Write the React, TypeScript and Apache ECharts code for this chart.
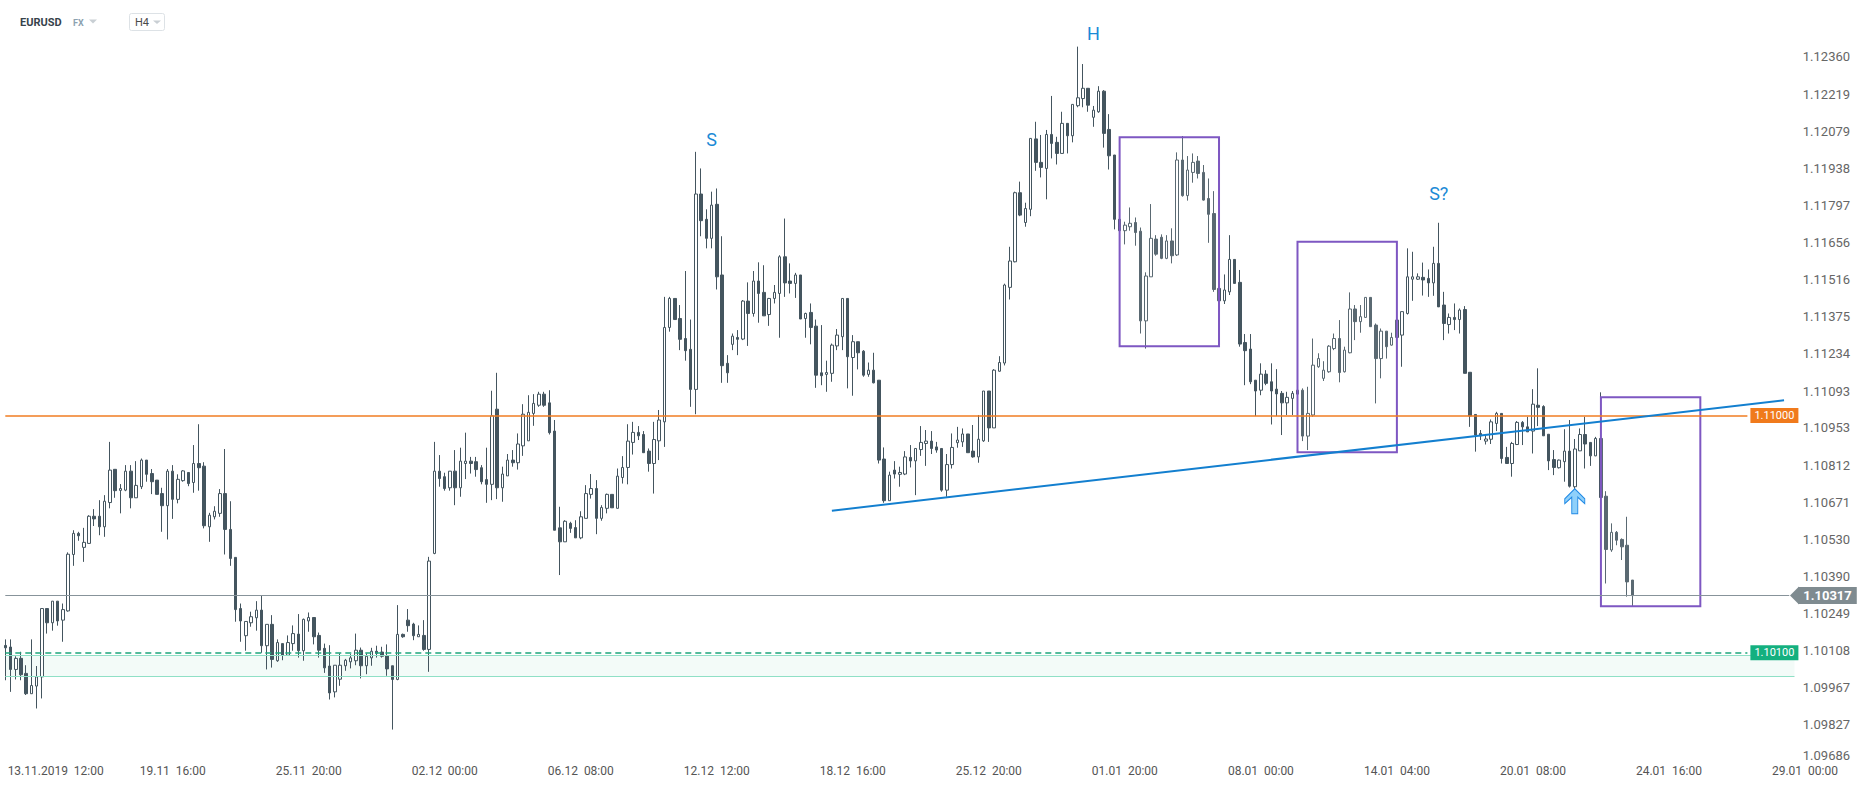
import React, { useEffect, useRef } from 'react';
import * as echarts from 'echarts';

// ---- candle values (H4 EURUSD) ----
const opens = [
  1.10128, 1.10122, 1.10037, 1.10079, 1.10022, 1.09945, 1.09974, 1.10009, 1.10268, 1.10214,
  1.10296, 1.10224, 1.10259, 1.10473, 1.10553, 1.10500, 1.10515, 1.10618, 1.10618, 1.10578,
  1.10670, 1.10796, 1.10716, 1.10717, 1.10789, 1.10688, 1.10730, 1.10831, 1.10780, 1.10755,
  1.10704, 1.10658, 1.10789, 1.10682, 1.10753, 1.10784, 1.10746, 1.10818, 1.10808, 1.10578,
  1.10616, 1.10629, 1.10704, 1.10568, 1.10462, 1.10268, 1.10165, 1.10214, 1.10233, 1.10262,
  1.10127, 1.10208, 1.10070, 1.10135, 1.10091, 1.10135, 1.10171, 1.10108, 1.10221, 1.10234,
  1.10166, 1.10117, 1.10050, 1.09952, 1.10000, 1.10051, 1.10066, 1.10070, 1.10110, 1.10051,
  1.10081, 1.10106, 1.10103, 1.10090, 1.10051, 1.09999, 1.10170, 1.10224, 1.10209, 1.10161,
  1.10166, 1.10113, 1.10477, 1.10789, 1.10768, 1.10726, 1.10789, 1.10726, 1.10818, 1.10827,
  1.10825, 1.10802, 1.10757, 1.10739, 1.11024, 1.10726, 1.10771, 1.10831, 1.10821, 1.10885,
  1.10904, 1.11008, 1.11039, 1.11081, 1.11048, 1.10941, 1.10574, 1.10521, 1.10591, 1.10575,
  1.10536, 1.10610, 1.10701, 1.10723, 1.10610, 1.10648, 1.10701, 1.10648, 1.10765, 1.10803,
  1.10898, 1.10936, 1.10928, 1.10865, 1.10818, 1.10904, 1.10976, 1.11334, 1.11444, 1.11368,
  1.11292, 1.11251, 1.11099, 1.11840, 1.11744, 1.11672, 1.11801, 1.11533, 1.11198, 1.11270,
  1.11296, 1.11290, 1.11434, 1.11387, 1.11510, 1.11467, 1.11383, 1.11444, 1.11463, 1.11602,
  1.11510, 1.11501, 1.11533, 1.11368, 1.11391, 1.11339, 1.11162, 1.11156, 1.11160, 1.11264,
  1.11299, 1.11444, 1.11220, 1.11280, 1.11244, 1.11156, 1.11172, 1.11134, 1.10835, 1.10677,
  1.10793, 1.10777, 1.10778, 1.10841, 1.10828, 1.10871, 1.10894, 1.10903, 1.10881, 1.10875,
  1.10717, 1.10814, 1.10897, 1.10900, 1.10930, 1.10865, 1.10843, 1.10904, 1.11093, 1.10953,
  1.11168, 1.11199, 1.11486, 1.11583, 1.11845, 1.11732, 1.11782, 1.12049, 1.11960, 1.11937,
  1.12066, 1.12036, 1.11994, 1.12108, 1.12061, 1.12175, 1.12202, 1.12241, 1.12131, 1.12152,
  1.12230, 1.12085, 1.11988, 1.11744, 1.11701, 1.11716, 1.11732, 1.11699, 1.11359, 1.11526,
  1.11669, 1.11676, 1.11596, 1.11662, 1.11609, 1.11969, 1.11834, 1.11922, 1.11965, 1.11922,
  1.11823, 1.11766, 1.11482, 1.11435, 1.11469, 1.11592, 1.11505, 1.11277, 1.11252, 1.11134,
  1.11096, 1.11157, 1.11128, 1.11100, 1.11084, 1.11048, 1.11065, 1.11081, 1.11096, 1.10922,
  1.11002, 1.11185, 1.11141, 1.11166, 1.11254, 1.11292, 1.11166, 1.11238, 1.11404, 1.11356,
  1.11372, 1.11448, 1.11343, 1.11216, 1.11320, 1.11267, 1.11296, 1.11305, 1.11387, 1.11517,
  1.11517, 1.11524, 1.11520, 1.11503, 1.11577, 1.11419, 1.11345, 1.11372, 1.11364, 1.11402,
  1.11164, 1.11004, 1.10932, 1.10903, 1.10910, 1.10970, 1.11008, 1.10841, 1.10818, 1.10890,
  1.10974, 1.10957, 1.10941, 1.11039, 1.11034, 1.10929, 1.10833, 1.10802, 1.10825, 1.10865,
  1.10730, 1.10866, 1.10928, 1.10898, 1.10847, 1.10913, 1.10694, 1.10490, 1.10557, 1.10530,
  1.10508, 1.10376,
];

const closes = [
  1.10119, 1.10037, 1.10079, 1.10017, 1.09945, 1.09976, 1.10009, 1.10268, 1.10214, 1.10296,
  1.10221, 1.10264, 1.10474, 1.10553, 1.10544, 1.10519, 1.10618, 1.10608, 1.10578, 1.10675,
  1.10793, 1.10715, 1.10723, 1.10789, 1.10688, 1.10735, 1.10831, 1.10777, 1.10749, 1.10701,
  1.10658, 1.10789, 1.10682, 1.10758, 1.10790, 1.10742, 1.10818, 1.10802, 1.10582, 1.10622,
  1.10637, 1.10704, 1.10568, 1.10458, 1.10264, 1.10221, 1.10219, 1.10237, 1.10262, 1.10127,
  1.10208, 1.10075, 1.10139, 1.10091, 1.10139, 1.10173, 1.10108, 1.10227, 1.10234, 1.10161,
  1.10110, 1.10043, 1.09948, 1.10053, 1.10053, 1.10072, 1.10081, 1.10110, 1.10051, 1.10087,
  1.10106, 1.10098, 1.10087, 1.10039, 1.09999, 1.10170, 1.10161, 1.10203, 1.10165, 1.10170,
  1.10113, 1.10448, 1.10789, 1.10761, 1.10723, 1.10789, 1.10726, 1.10827, 1.10827, 1.10818,
  1.10795, 1.10749, 1.10739, 1.10999, 1.10726, 1.10778, 1.10831, 1.10821, 1.10892, 1.11005,
  1.11012, 1.11046, 1.11081, 1.11039, 1.10935, 1.10565, 1.10521, 1.10599, 1.10572, 1.10536,
  1.10616, 1.10704, 1.10723, 1.10610, 1.10651, 1.10701, 1.10650, 1.10770, 1.10803, 1.10903,
  1.10936, 1.10923, 1.10859, 1.10818, 1.10909, 1.10983, 1.11334, 1.11444, 1.11364, 1.11289,
  1.11246, 1.11099, 1.11840, 1.11739, 1.11672, 1.11798, 1.11526, 1.11189, 1.11162, 1.11301,
  1.11289, 1.11434, 1.11387, 1.11510, 1.11463, 1.11378, 1.11444, 1.11467, 1.11602, 1.11503,
  1.11501, 1.11533, 1.11366, 1.11387, 1.11334, 1.11153, 1.11151, 1.11163, 1.11267, 1.11305,
  1.11444, 1.11223, 1.11280, 1.11238, 1.11153, 1.11172, 1.11124, 1.10831, 1.10677, 1.10774,
  1.10778, 1.10784, 1.10843, 1.10828, 1.10875, 1.10898, 1.10903, 1.10875, 1.10869, 1.10717,
  1.10814, 1.10879, 1.10907, 1.10930, 1.10859, 1.10843, 1.10910, 1.11093, 1.10953, 1.11172,
  1.11201, 1.11495, 1.11586, 1.11845, 1.11760, 1.11785, 1.12051, 1.11960, 1.11941, 1.12066,
  1.12032, 1.11994, 1.12108, 1.12061, 1.12180, 1.12205, 1.12241, 1.12177, 1.12158, 1.12230,
  1.12070, 1.11985, 1.11744, 1.11701, 1.11722, 1.11729, 1.11694, 1.11359, 1.11529, 1.11672,
  1.11612, 1.11596, 1.11662, 1.11606, 1.11969, 1.11834, 1.11931, 1.11960, 1.11918, 1.11817,
  1.11763, 1.11478, 1.11435, 1.11476, 1.11592, 1.11501, 1.11271, 1.11246, 1.11128, 1.11093,
  1.11157, 1.11122, 1.11093, 1.11082, 1.11048, 1.11069, 1.11084, 1.11096, 1.10922, 1.11008,
  1.11191, 1.11216, 1.11172, 1.11263, 1.11292, 1.11163, 1.11248, 1.11404, 1.11356, 1.11375,
  1.11448, 1.11337, 1.11216, 1.11320, 1.11261, 1.11296, 1.11362, 1.11394, 1.11526, 1.11526,
  1.11526, 1.11514, 1.11503, 1.11577, 1.11412, 1.11349, 1.11372, 1.11364, 1.11400, 1.11160,
  1.10998, 1.10926, 1.10923, 1.10911, 1.10976, 1.11008, 1.10837, 1.10818, 1.10894, 1.10974,
  1.10957, 1.10938, 1.11043, 1.11031, 1.10923, 1.10828, 1.10803, 1.10831, 1.10865, 1.10732,
  1.10873, 1.10928, 1.10892, 1.10847, 1.10913, 1.10689, 1.10492, 1.10557, 1.10527, 1.10502,
  1.10369, 1.10317,
];

const lows = [
  1.09996, 1.09952, 1.09999, 1.09996, 1.09940, 1.09945, 1.09889, 1.09927, 1.10173, 1.10184,
  1.10203, 1.10142, 1.10256, 1.10430, 1.10525, 1.10445, 1.10515, 1.10581, 1.10546, 1.10540,
  1.10648, 1.10688, 1.10629, 1.10713, 1.10648, 1.10688, 1.10721, 1.10749, 1.10702, 1.10701,
  1.10559, 1.10530, 1.10608, 1.10667, 1.10749, 1.10732, 1.10707, 1.10715, 1.10572, 1.10521,
  1.10606, 1.10616, 1.10473, 1.10430, 1.10218, 1.10142, 1.10108, 1.10199, 1.10184, 1.10100,
  1.10037, 1.10044, 1.10066, 1.10072, 1.10091, 1.10108, 1.10082, 1.10070, 1.10180, 1.10132,
  1.10082, 1.10024, 1.09923, 1.09931, 1.09975, 1.10032, 1.10041, 1.10053, 1.10003, 1.10019,
  1.10051, 1.10082, 1.10082, 1.10013, 1.09809, 1.09996, 1.10157, 1.10180, 1.10148, 1.10161,
  1.10108, 1.10028, 1.10474, 1.10730, 1.10715, 1.10715, 1.10660, 1.10692, 1.10759, 1.10780,
  1.10768, 1.10739, 1.10669, 1.10679, 1.10683, 1.10673, 1.10771, 1.10806, 1.10795, 1.10847,
  1.10904, 1.10961, 1.11033, 1.11033, 1.10928, 1.10565, 1.10395, 1.10521, 1.10555, 1.10536,
  1.10531, 1.10610, 1.10685, 1.10550, 1.10601, 1.10629, 1.10650, 1.10648, 1.10742, 1.10739,
  1.10852, 1.10907, 1.10859, 1.10787, 1.10704, 1.10831, 1.10881, 1.11318, 1.11364, 1.11248,
  1.11208, 1.11033, 1.11005, 1.11680, 1.11634, 1.11634, 1.11478, 1.11124, 1.11124, 1.11248,
  1.11229, 1.11286, 1.11264, 1.11375, 1.11352, 1.11378, 1.11340, 1.11425, 1.11295, 1.11450,
  1.11463, 1.11446, 1.11366, 1.11295, 1.11270, 1.11105, 1.11115, 1.11090, 1.11128, 1.11248,
  1.11248, 1.11103, 1.11075, 1.11175, 1.11147, 1.11147, 1.11122, 1.10818, 1.10669, 1.10677,
  1.10761, 1.10730, 1.10774, 1.10803, 1.10698, 1.10847, 1.10809, 1.10854, 1.10859, 1.10711,
  1.10692, 1.10799, 1.10878, 1.10881, 1.10859, 1.10840, 1.10821, 1.10900, 1.10900, 1.10953,
  1.11166, 1.11190, 1.11440, 1.11581, 1.11756, 1.11716, 1.11756, 1.11928, 1.11903, 1.11820,
  1.11975, 1.11952, 1.11994, 1.11994, 1.12036, 1.12169, 1.12169, 1.12152, 1.12095, 1.12148,
  1.12016, 1.11933, 1.11706, 1.11640, 1.11649, 1.11701, 1.11644, 1.11311, 1.11254, 1.11526,
  1.11606, 1.11593, 1.11593, 1.11577, 1.11605, 1.11830, 1.11815, 1.11883, 1.11899, 1.11815,
  1.11655, 1.11469, 1.11425, 1.11423, 1.11457, 1.11501, 1.11261, 1.11115, 1.11119, 1.10998,
  1.11077, 1.11115, 1.10966, 1.10998, 1.10926, 1.11002, 1.11002, 1.11071, 1.10903, 1.10869,
  1.10995, 1.11181, 1.11131, 1.11162, 1.11248, 1.11126, 1.11163, 1.11236, 1.11286, 1.11314,
  1.11372, 1.11337, 1.11046, 1.11141, 1.11216, 1.11265, 1.11290, 1.11185, 1.11383, 1.11435,
  1.11514, 1.11455, 1.11450, 1.11454, 1.11412, 1.11286, 1.11311, 1.11324, 1.11311, 1.11160,
  1.10957, 1.10863, 1.10907, 1.10890, 1.10892, 1.10941, 1.10818, 1.10818, 1.10768, 1.10888,
  1.10888, 1.10938, 1.10856, 1.10960, 1.10923, 1.10793, 1.10774, 1.10799, 1.10749, 1.10727,
  1.10704, 1.10866, 1.10799, 1.10809, 1.10846, 1.10689, 1.10363, 1.10483, 1.10508, 1.10452,
  1.10313, 1.10277,
];

const highs = [
  1.10151, 1.10151, 1.10087, 1.10104, 1.10053, 1.10151, 1.10050, 1.10268, 1.10268, 1.10296,
  1.10296, 1.10287, 1.10481, 1.10565, 1.10559, 1.10574, 1.10622, 1.10645, 1.10679, 1.10698,
  1.10900, 1.10796, 1.10740, 1.10812, 1.10812, 1.10827, 1.10837, 1.10831, 1.10797, 1.10755,
  1.10726, 1.10797, 1.10812, 1.10777, 1.10793, 1.10784, 1.10888, 1.10967, 1.10823, 1.10631,
  1.10656, 1.10721, 1.10873, 1.10675, 1.10462, 1.10287, 1.10219, 1.10256, 1.10296, 1.10319,
  1.10208, 1.10243, 1.10151, 1.10135, 1.10166, 1.10204, 1.10247, 1.10230, 1.10253, 1.10234,
  1.10177, 1.10135, 1.10129, 1.10053, 1.10098, 1.10077, 1.10095, 1.10173, 1.10120, 1.10098,
  1.10119, 1.10127, 1.10123, 1.10132, 1.10051, 1.10281, 1.10173, 1.10266, 1.10214, 1.10204,
  1.10224, 1.10464, 1.10900, 1.10850, 1.10783, 1.10789, 1.10869, 1.10878, 1.10935, 1.10843,
  1.10843, 1.10812, 1.10878, 1.11094, 1.11162, 1.10806, 1.10854, 1.10869, 1.10932, 1.11043,
  1.11077, 1.11081, 1.11090, 1.11090, 1.11096, 1.10983, 1.10654, 1.10603, 1.10597, 1.10603,
  1.10637, 1.10736, 1.10778, 1.10755, 1.10660, 1.10704, 1.10701, 1.10799, 1.10846, 1.10967,
  1.10976, 1.10960, 1.10941, 1.10875, 1.10976, 1.11021, 1.11450, 1.11450, 1.11444, 1.11419,
  1.11548, 1.11364, 1.12000, 1.11937, 1.11782, 1.11849, 1.11861, 1.11680, 1.11229, 1.11311,
  1.11324, 1.11438, 1.11505, 1.11548, 1.11581, 1.11570, 1.11446, 1.11495, 1.11608, 1.11747,
  1.11577, 1.11541, 1.11533, 1.11390, 1.11425, 1.11364, 1.11343, 1.11208, 1.11273, 1.11328,
  1.11444, 1.11444, 1.11305, 1.11280, 1.11248, 1.11201, 1.11238, 1.11134, 1.10879, 1.10787,
  1.10827, 1.10806, 1.10865, 1.10888, 1.10875, 1.10960, 1.10945, 1.10941, 1.10900, 1.10875,
  1.10854, 1.10932, 1.10957, 1.10951, 1.10930, 1.10964, 1.11002, 1.11093, 1.11093, 1.11176,
  1.11225, 1.11500, 1.11640, 1.11849, 1.11887, 1.11807, 1.12051, 1.12114, 1.12064, 1.12083,
  1.12212, 1.12057, 1.12152, 1.12108, 1.12180, 1.12399, 1.12333, 1.12241, 1.12174, 1.12249,
  1.12234, 1.12143, 1.11988, 1.11760, 1.11735, 1.11789, 1.11751, 1.11713, 1.11543, 1.11802,
  1.11684, 1.11687, 1.11684, 1.11710, 1.11998, 1.12060, 1.11984, 1.11994, 1.11984, 1.11950,
  1.11899, 1.11851, 1.11490, 1.11535, 1.11684, 1.11592, 1.11552, 1.11309, 1.11309, 1.11134,
  1.11198, 1.11172, 1.11198, 1.11176, 1.11093, 1.11090, 1.11093, 1.11109, 1.11103, 1.11109,
  1.11292, 1.11236, 1.11206, 1.11267, 1.11311, 1.11362, 1.11261, 1.11467, 1.11419, 1.11419,
  1.11448, 1.11448, 1.11349, 1.11330, 1.11320, 1.11314, 1.11370, 1.11394, 1.11634, 1.11621,
  1.11539, 1.11580, 1.11554, 1.11640, 1.11731, 1.11469, 1.11387, 1.11425, 1.11406, 1.11415,
  1.11164, 1.11004, 1.10945, 1.10926, 1.10985, 1.11014, 1.11008, 1.10881, 1.10900, 1.10979,
  1.10979, 1.10995, 1.11100, 1.11179, 1.11039, 1.10929, 1.10869, 1.10833, 1.10948, 1.10983,
  1.10911, 1.10951, 1.10995, 1.10898, 1.10919, 1.11088, 1.10713, 1.10591, 1.10562, 1.10534,
  1.10616, 1.10376,
];

// ---- axis labels ----
const timeLabels = [
  '13.11.2019  12:00', '19.11  16:00', '25.11  20:00', '02.12  00:00', '06.12  08:00',
  '12.12  12:00', '18.12  16:00', '25.12  20:00', '01.01  20:00', '08.01  00:00',
  '14.01  04:00', '20.01  08:00', '24.01  16:00', '29.01  00:00',
];
const firstTickIndex = 6;
const candlesPerTick = 26;
const slotCount = 346;

const priceTicks = [
  1.09686, 1.09827, 1.09967, 1.10108, 1.10249, 1.10390, 1.10530, 1.10671, 1.10812, 1.10953,
  1.11093, 1.11234, 1.11375, 1.11516, 1.11656, 1.11797, 1.11938, 1.12079, 1.12219, 1.12360,
];
const priceMin = 1.09686;
const priceMax = 1.125;

// ---- annotation values ----
const resistanceLevel = 1.11;
const supportLevel = 1.101;
const lastPrice = 1.10317;
const zoneTop = 1.1009;
const zoneBottom = 1.1001;
const necklineStart = [158, 1.10639];
const necklineEnd = [340, 1.11058];
const patternBoxes = [
  [213, 1.12055, 232, 1.11263],
  [247, 1.11659, 266, 1.10861],
  [305, 1.11069, 324, 1.10277],
];
const patternLabels = [
  { text: 'S', idx: 135, price: 1.12045 },
  { text: 'H', idx: 208, price: 1.12449 },
  { text: 'S?', idx: 274, price: 1.11842 },
];
const signalArrow = [300, 1.10675];

const BEAR = '#44555f';
const FONT = 'Roboto, "Noto Sans", sans-serif';

export default function App() {
  const ref = useRef<HTMLDivElement>(null);

  useEffect(() => {
    if (!ref.current) return;
    const chart = echarts.init(ref.current, null, { renderer: 'svg' });

    const candles = opens.map((o, i) => [o, closes[i], lows[i], highs[i]]);
    const categories = Array.from({ length: slotCount }, (_, i) => {
      const k = (i - firstTickIndex) / candlesPerTick;
      return Number.isInteger(k) && k >= 0 && k < timeLabels.length ? timeLabels[k] : '';
    });

    const levelEnd = 333;
    const zoneEnd = 342;
    const lastEnd = 341;

    const levelLabel = (bg: string, text: string) => ({
      show: true,
      position: 'end',
      distance: 3,
      formatter: () => text,
      color: '#ffffff',
      backgroundColor: bg,
      padding: [2, 4, 2, 4],
      fontSize: 11,
      fontFamily: FONT,
    });

    const option: any = {
      animation: false,
      backgroundColor: '#ffffff',
      grid: { left: 2.684, right: 53.2, top: 20, bottom: 26, outerBoundsMode: 'none' },
      xAxis: {
        type: 'category',
        data: categories,
        boundaryGap: true,
        axisLine: { show: false },
        axisTick: { show: false },
        splitLine: { show: false },
        axisLabel: {
          interval: 0,
          margin: 3,
          color: '#555555',
          fontSize: 12,
          fontFamily: FONT,
          formatter: (v: string, i: number) => (i === firstTickIndex ? `{first|${v}}` : v),
          rich: { first: { padding: [0, 0, 0, 38], fontSize: 12, color: '#555555', fontFamily: FONT } },
        },
      },
      yAxis: {
        type: 'value',
        position: 'right',
        min: priceMin,
        max: priceMax,
        scale: true,
        axisLine: { show: false },
        axisTick: { show: false },
        splitLine: { show: false },
        axisLabel: {
          customValues: priceTicks,
          formatter: (v: number) => v.toFixed(5),
          color: '#666666',
          fontSize: 13,
          fontFamily: FONT,
          margin: -10,
          verticalAlignMinLabel: 'bottom',
        },
      },
      series: [
        {
          // holder of the light support zone, drawn beneath the candles
          type: 'line',
          data: [],
          silent: true,
          markArea: {
            silent: true,
            label: { show: false },
            data: [
              [
                { coord: [0, zoneTop], itemStyle: { color: 'rgba(140,220,190,0.10)' } },
                { coord: [zoneEnd, zoneBottom] },
              ],
            ],
          },
        },
        {
          type: 'candlestick',
          data: candles,
          barWidth: 3,
          itemStyle: {
            color: '#ffffff',
            color0: BEAR,
            borderColor: BEAR,
            borderColor0: BEAR,
            borderColorDoji: BEAR,
            borderWidth: 1,
          },
          markArea: {
            silent: true,
            z: 3,
            label: { show: false },
            data: patternBoxes.map((b) => [
              {
                coord: [b[0], b[1]],
                itemStyle: { color: 'rgba(255,255,255,0.12)', borderColor: '#7e57c2', borderWidth: 2 },
              },
              { coord: [b[2], b[3]] },
            ]),
          },
          markLine: {
            silent: true,
            symbol: ['none', 'none'],
            animation: false,
            data: [
              [
                { coord: [0, zoneTop], lineStyle: { color: '#8fe0c6', width: 1, type: 'solid' }, label: { show: false } },
                { coord: [zoneEnd, zoneTop] },
              ],
              [
                { coord: [0, zoneBottom], lineStyle: { color: '#8fe0c6', width: 1, type: 'solid' }, label: { show: false } },
                { coord: [zoneEnd, zoneBottom] },
              ],
              [
                {
                  coord: [0, resistanceLevel],
                  lineStyle: { color: '#f07d22', width: 1.5, type: 'solid' },
                  label: levelLabel('#f07a1c', resistanceLevel.toFixed(5)),
                },
                { coord: [levelEnd, resistanceLevel] },
              ],
              [
                {
                  coord: [0, supportLevel],
                  lineStyle: { color: '#1ea77c', width: 1.5, type: [6, 4] },
                  label: levelLabel('#14b07f', supportLevel.toFixed(5)),
                },
                { coord: [levelEnd, supportLevel] },
              ],
              [
                {
                  coord: [0, lastPrice],
                  lineStyle: { color: '#87939a', width: 1.2, type: 'solid' },
                  label: {
                    show: true,
                    position: 'end',
                    distance: 9,
                    formatter: () => lastPrice.toFixed(5),
                    color: '#ffffff',
                    backgroundColor: '#7f8b90',
                    padding: [2, 5, 2, 5],
                    fontSize: 13,
                    fontWeight: 'bold',
                    fontFamily: FONT,
                  },
                },
                { coord: [lastEnd, lastPrice] },
              ],
              [
                { coord: necklineStart, lineStyle: { color: '#137fcf', width: 2, type: 'solid' }, label: { show: false } },
                { coord: necklineEnd },
              ],
            ],
          },
          markPoint: {
            silent: true,
            data: [
              ...patternLabels.map((p) => ({
                coord: [p.idx, p.price],
                symbol: 'circle',
                symbolSize: 1,
                itemStyle: { color: 'rgba(0,0,0,0)' },
                label: {
                  show: true,
                  position: 'inside',
                  formatter: () => p.text,
                  color: '#1a8ad6',
                  fontSize: 18,
                  fontFamily: FONT,
                },
              })),
              {
                coord: signalArrow,
                symbol: 'path://M10,0 L20,10 L20,15 L13,8.5 L13,25 L7,25 L7,8.5 L0,15 L0,10 Z',
                symbolSize: [20, 25],
                itemStyle: { color: '#8fd0fa', borderColor: '#1e88e5', borderWidth: 1 },
                label: { show: false },
              },
              {
                coord: [342, lastPrice],
                symbol: 'path://M0,9 L9,0 L9,18 Z',
                symbolSize: [9, 18],
                itemStyle: { color: '#7f8b90' },
                label: { show: false },
              },
            ],
          },
        },
      ],
      graphic: [
        { type: 'text', x: 20, y: 22, style: { text: 'EURUSD', fill: '#37434c', font: `bold 11px ${FONT}`, verticalAlign: 'middle' } },
        { type: 'text', x: 73, y: 22.5, style: { text: 'FX', fill: '#8da2b0', font: `bold 9px ${FONT}`, verticalAlign: 'middle' } },
        { type: 'polygon', shape: { points: [[89, 19.5], [97, 19.5], [93, 23.5]] }, style: { fill: '#c9cfd4' } },
        { type: 'rect', shape: { x: 129.5, y: 13.5, width: 35, height: 17, r: 2 }, style: { fill: '#ffffff', stroke: '#dde2e6', lineWidth: 1 } },
        { type: 'text', x: 135, y: 22.5, style: { text: 'H4', fill: '#4a4a4a', font: `11px ${FONT}`, verticalAlign: 'middle' } },
        { type: 'polygon', shape: { points: [[153, 20.5], [161, 20.5], [157, 24]] }, style: { fill: '#c9cfd4' } },
      ],
    };

    chart.setOption(option);
    return () => chart.dispose();
  }, []);

  return (
    <div
      ref={ref}
      style={{ position: 'absolute', left: 0, top: 0, width: 1866, height: 788, background: '#ffffff' }}
    />
  );
}
